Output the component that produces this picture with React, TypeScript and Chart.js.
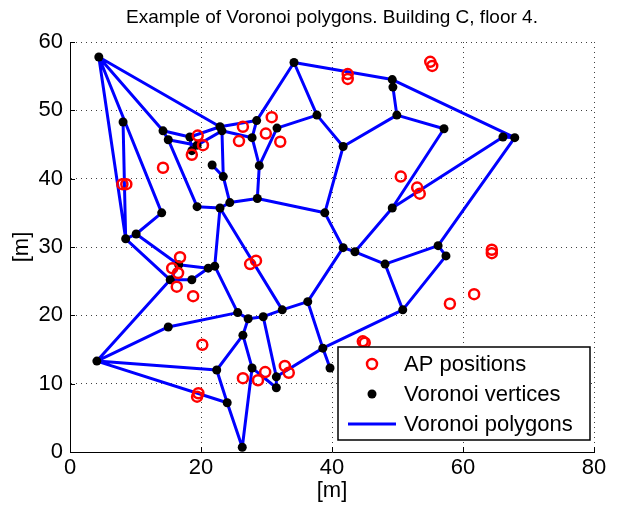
import React, { useEffect, useRef } from "react";
import { Chart, registerables } from "chart.js";

Chart.register(...registerables);

// ---- Data ----
const titleText = "Example of Voronoi polygons. Building C, floor 4.";
const xAxisLabel = "[m]";
const yAxisLabel = "[m]";
const xTicks = [0, 20, 40, 60, 80];
const yTicks = [0, 10, 20, 30, 40, 50, 60];
const seriesLabels = ["AP positions", "Voronoi vertices", "Voronoi polygons"];

// AP positions
const apX = [42.4, 42.4, 55.0, 55.3, 30.8, 26.4, 25.8, 29.9, 32.1, 19.5, 20.3, 18.6, 14.2, 8.0, 8.6, 16.8, 15.6, 16.5, 16.3, 18.8, 27.5, 28.4, 20.2, 19.6, 19.4, 26.4, 28.7, 29.8, 32.8, 33.4, 44.7, 45.0, 50.5, 53.0, 53.4, 64.4, 64.4, 61.7, 58.0];
const apY = [55.3, 54.6, 57.1, 56.5, 49.0, 47.6, 45.5, 46.6, 45.4, 46.3, 44.9, 43.5, 41.6, 39.2, 39.2, 28.5, 26.9, 26.2, 24.2, 22.8, 27.5, 28.0, 15.7, 8.6, 8.1, 10.8, 10.5, 11.7, 12.6, 11.6, 16.2, 16.0, 40.3, 38.7, 37.8, 29.6, 29.1, 23.1, 21.7];

// Voronoi vertices
const vertX = [4.4, 8.1, 8.5, 10.1, 14.2, 15.0, 18.3, 19.4, 18.6, 21.7, 23.4, 22.9, 23.2, 28.5, 27.8, 31.6, 34.2, 37.7, 41.7, 28.9, 49.2, 49.3, 49.9, 57.1, 66.1, 67.9, 14.0, 19.4, 22.9, 24.4, 28.6, 38.9, 41.7, 43.5, 49.2, 48.1, 56.2, 57.4, 50.8, 16.6, 15.3, 18.6, 21.1, 22.1, 25.6, 27.2, 29.5, 32.4, 36.3, 15.0, 26.4, 22.4, 27.8, 31.5, 31.5, 38.6, 39.7, 24.0, 26.3, 4.1];
const vertY = [57.8, 48.3, 31.2, 31.9, 47.0, 45.7, 46.1, 44.9, 44.1, 42.0, 40.3, 47.6, 47.0, 48.5, 46.0, 47.4, 57.0, 49.3, 44.7, 41.9, 54.5, 53.4, 49.3, 47.3, 46.1, 46.0, 35.0, 35.9, 35.7, 36.5, 37.1, 35.0, 29.9, 29.3, 35.7, 27.5, 30.2, 28.7, 20.8, 27.4, 25.2, 25.2, 26.9, 27.2, 20.4, 19.5, 19.8, 20.8, 22.0, 18.3, 17.1, 12.0, 12.3, 11.0, 9.4, 15.2, 12.3, 7.2, 0.7, 13.3];

// Voronoi polygon edges (vertex indices)
const edgeFrom = [0, 0, 0, 0, 1, 2, 2, 3, 3, 4, 4, 6, 5, 7, 6, 8, 9, 11, 12, 12, 11, 13, 13, 14, 19, 15, 17, 17, 16, 20, 21, 20, 24, 24, 25, 18, 22, 23, 18, 31, 30, 30, 29, 29, 28, 28, 28, 5, 31, 32, 33, 33, 35, 36, 37, 35, 32, 48, 47, 46, 45, 44, 44, 43, 42, 42, 39, 41, 40, 59, 59, 59, 51, 51, 50, 50, 52, 57, 52, 54, 53, 53, 48, 55, 55];
const edgeTo = [11, 4, 2, 26, 2, 3, 40, 26, 39, 5, 6, 11, 7, 12, 8, 7, 10, 12, 14, 10, 13, 16, 14, 19, 15, 17, 16, 18, 20, 21, 22, 25, 25, 34, 36, 22, 23, 34, 31, 30, 19, 29, 10, 28, 27, 43, 47, 27, 32, 33, 34, 35, 36, 37, 38, 38, 48, 47, 46, 45, 44, 43, 49, 42, 39, 41, 40, 40, 59, 49, 51, 57, 57, 50, 45, 52, 58, 58, 54, 53, 46, 55, 55, 56, 38];

const FONT = "'Liberation Sans', Arial, Helvetica, sans-serif";

const innerTicksPlugin = {
  id: "innerTicks",
  afterDatasetsDraw(chart: any) {
    const { ctx, chartArea: ca, scales } = chart;
    ctx.save();
    ctx.strokeStyle = "#000";
    ctx.lineWidth = 1;
    xTicks.forEach((v) => {
      const px = Math.round(scales.x.getPixelForValue(v)) + 0.5;
      ctx.beginPath();
      ctx.moveTo(px, ca.bottom);
      ctx.lineTo(px, ca.bottom - 5);
      ctx.stroke();
    });
    yTicks.forEach((v) => {
      const py = Math.round(scales.y.getPixelForValue(v)) + 0.5;
      ctx.beginPath();
      ctx.moveTo(ca.left, py);
      ctx.lineTo(ca.left + 5, py);
      ctx.stroke();
    });
    ctx.restore();
  },
};

const boxLegendPlugin = {
  id: "boxLegend",
  afterDraw(chart: any) {
    const { ctx, chartArea: ca } = chart;
    const w = 252;
    const h = 93;
    const x0 = ca.right - 4 - w;
    const y0 = ca.bottom - 12 - h;
    ctx.save();
    ctx.fillStyle = "#fff";
    ctx.fillRect(x0, y0, w, h);
    ctx.strokeStyle = "#000";
    ctx.lineWidth = 1.5;
    ctx.strokeRect(x0, y0, w, h);
    const rows = [y0 + 17, y0 + 47, y0 + 77];
    const mx = x0 + 34;
    ctx.beginPath();
    ctx.arc(mx, rows[0], 5, 0, Math.PI * 2);
    ctx.strokeStyle = "#ff0000";
    ctx.lineWidth = 2.5;
    ctx.stroke();
    ctx.beginPath();
    ctx.arc(mx, rows[1], 4.5, 0, Math.PI * 2);
    ctx.fillStyle = "#000";
    ctx.fill();
    ctx.beginPath();
    ctx.moveTo(x0 + 10, rows[2]);
    ctx.lineTo(x0 + 58, rows[2]);
    ctx.strokeStyle = "#0000ff";
    ctx.lineWidth = 3;
    ctx.stroke();
    ctx.fillStyle = "#000";
    ctx.font = `22px ${FONT}`;
    ctx.textBaseline = "middle";
    ctx.textAlign = "left";
    seriesLabels.forEach((t, i) => ctx.fillText(t, x0 + 66, rows[i] + 1));
    ctx.restore();
  },
};

export default function App() {
  const ref = useRef<HTMLCanvasElement>(null);
  useEffect(() => {
    if (!ref.current) return;
    const polyData: { x: number; y: number | null }[] = [];
    edgeFrom.forEach((a, i) => {
      const b = edgeTo[i];
      polyData.push({ x: vertX[a], y: vertY[a] });
      polyData.push({ x: vertX[b], y: vertY[b] });
      polyData.push({ x: vertX[b], y: null });
    });
    const vertData = vertX.map((x, i) => ({ x, y: vertY[i] }));
    const apData = apX.map((x, i) => ({ x, y: apY[i] }));

    const gridCommon = {
      color: "rgba(0,0,0,0.75)",
      lineWidth: 1,
      drawTicks: false,
    };
    const borderCommon = { display: true, color: "#000", width: 1, dash: [1, 4] };

    const chart = new Chart(ref.current, {
      type: "scatter",
      data: {
        datasets: [
          {
            label: seriesLabels[0],
            data: apData,
            pointRadius: 5,
            pointBorderWidth: 2.5,
            pointBorderColor: "#ff0000",
            pointBackgroundColor: "rgba(0,0,0,0)",
            order: 1,
          },
          {
            label: seriesLabels[1],
            data: vertData,
            pointRadius: 4.5,
            pointBorderWidth: 0,
            pointBackgroundColor: "#000",
            pointBorderColor: "#000",
            order: 2,
          },
          {
            label: seriesLabels[2],
            data: polyData as any,
            showLine: true,
            spanGaps: false,
            borderColor: "#0000ff",
            borderWidth: 3,
            pointRadius: 0,
            fill: false,
            order: 3,
          } as any,
        ],
      },
      options: {
        responsive: false,
        animation: false,
        events: [],
        layout: { padding: { left: 0, right: 24, top: 0, bottom: 0 } },
        plugins: {
          legend: { display: false },
          tooltip: { enabled: false },
          title: {
            display: true,
            fullSize: false,
            text: titleText,
            color: "#000",
            font: { family: FONT, size: 19, weight: "normal", lineHeight: 1.2 },
            padding: { top: 6, bottom: 13.2 },
          },
        },
        scales: {
          x: {
            type: "linear",
            min: 0,
            max: 80,
            afterBuildTicks: (s: any) => {
              s.ticks = xTicks.map((v) => ({ value: v }));
            },
            afterFit: (s: any) => {
              s.height = 56;
            },
            ticks: { font: { family: FONT, size: 22 }, color: "#000", padding: 3, maxRotation: 0 },
            grid: gridCommon,
            border: borderCommon,
            title: {
              display: true,
              text: xAxisLabel,
              color: "#000",
              font: { family: FONT, size: 22, lineHeight: 1.2 },
              padding: { top: 0, bottom: 4 },
            },
          },
          y: {
            type: "linear",
            min: 0,
            max: 60,
            afterBuildTicks: (s: any) => {
              s.ticks = yTicks.map((v) => ({ value: v }));
            },
            afterFit: (s: any) => {
              s.width = 70;
            },
            ticks: { font: { family: FONT, size: 22 }, color: "#000", padding: 7 },
            grid: gridCommon,
            border: borderCommon,
            title: {
              display: true,
              text: yAxisLabel,
              color: "#000",
              font: { family: FONT, size: 22, lineHeight: 1.2 },
              padding: { top: 9, bottom: 0 },
            },
          },
        },
      } as any,
      plugins: [innerTicksPlugin, boxLegendPlugin],
    });
    return () => chart.destroy();
  }, []);

  return (
    <div style={{ position: "fixed", left: 0, top: 0, width: 618, height: 508, background: "#fff" }}>
      <canvas ref={ref} width={618} height={508} style={{ width: 618, height: 508, display: "block" }} />
    </div>
  );
}
